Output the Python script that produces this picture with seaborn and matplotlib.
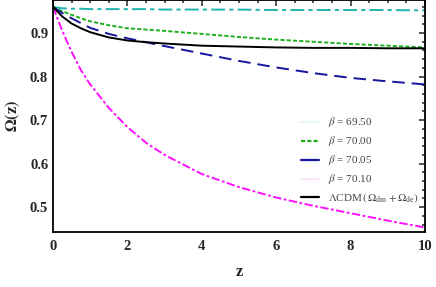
import matplotlib
matplotlib.use("Agg")
import matplotlib.pyplot as plt
from matplotlib.lines import Line2D
from matplotlib.ticker import MultipleLocator
import seaborn as sns

# ── données ─────────────────────────────────────────
z = [0, 0.25, 0.5, 0.75, 1, 1.5, 2, 2.5, 3, 4, 5, 6, 7, 8, 9, 10]
omega_6950 = [0.960, 0.957, 0.956, 0.956, 0.955, 0.955, 0.955, 0.955,
              0.954, 0.954, 0.954, 0.953, 0.953, 0.953, 0.953, 0.952]
omega_7000 = [0.960, 0.950, 0.942, 0.934, 0.927, 0.918, 0.911, 0.908,
              0.905, 0.898, 0.891, 0.885, 0.880, 0.875, 0.871, 0.867]
omega_7005 = [0.960, 0.946, 0.934, 0.923, 0.912, 0.898, 0.888, 0.879,
              0.870, 0.853, 0.836, 0.821, 0.808, 0.797, 0.789, 0.782]
omega_7010 = [0.960, 0.905, 0.857, 0.815, 0.782, 0.728, 0.684, 0.648,
              0.620, 0.576, 0.546, 0.522, 0.503, 0.486, 0.469, 0.453]
omega_lcdm = [0.960, 0.938, 0.922, 0.911, 0.902, 0.890, 0.883, 0.879,
              0.876, 0.871, 0.869, 0.867, 0.866, 0.866, 0.865, 0.865]

labels = [r"$\beta$ = 69.50", r"$\beta$ = 70.00", r"$\beta$ = 70.05",
          r"$\beta$ = 70.10", r"$\Lambda$CDM$\,(\,\Omega_{\rm dm}+\Omega_{\rm de})$"]

sns.set_style("white")
plt.rcParams["font.family"] = ["Liberation Serif", "DejaVu Serif"]
plt.rcParams["mathtext.fontset"] = "stix"
plt.rcParams["lines.scale_dashes"] = False

fig = plt.figure(figsize=(4.36, 2.87), dpi=100)
ax = fig.add_axes([53 / 436, 1 - 231.5 / 287, (425 - 53) / 436, 231.5 / 287])

series = [
    (omega_6950, "#1fb3ad", (0, (10, 3, 3, 3))),
    (omega_7000, "#1fb01f", (0, (3, 1.5))),
    (omega_7005, "#1515a0", (0, (9, 5))),
    (omega_7010, "#ff10ff", (0, (6, 1.8, 2, 1.8))),
    (omega_lcdm, "black", "-"),
]
for vals, col, ls in series:
    sns.lineplot(x=z, y=vals, ax=ax, color=col, lw=1.4, linestyle=ls, sort=False)

ax.set_xlim(0, 10)
ax.set_ylim(0.444, 0.976)
ax.xaxis.set_major_locator(MultipleLocator(2))
ax.xaxis.set_minor_locator(MultipleLocator(0.5))
ax.yaxis.set_major_locator(MultipleLocator(0.1))
ax.yaxis.set_minor_locator(MultipleLocator(0.02))
ax.yaxis.set_major_formatter(plt.FuncFormatter(lambda v, p: f"{v:.1f}"))
ax.tick_params(which="both", direction="in", top=True, right=True, width=1.1)
ax.tick_params(which="major", length=4, labelsize=10.5, pad=6)
ax.tick_params(axis="y", which="major", pad=3.5)
ax.tick_params(which="minor", length=2)
for lab in ax.get_xticklabels() + ax.get_yticklabels():
    lab.set_fontweight("bold")
for sp in ax.spines.values():
    sp.set_linewidth(1.3)
    sp.set_color("black")

ax.set_xlabel("z", fontsize=12, fontweight="bold", labelpad=8)
ax.set_ylabel(r"$\mathbf{\Omega(z)}$", fontsize=12, labelpad=6)

handles = [
    Line2D([], [], color="#1fb3ad", lw=1.2, alpha=0.12),
    Line2D([], [], color="#1fb01f", lw=1.6, linestyle=(0, (3, 1.5))),
    Line2D([], [], color="#1515a0", lw=1.6, linestyle="-"),
    Line2D([], [], color="#ff10ff", lw=1.2, alpha=0.12),
    Line2D([], [], color="black", lw=1.6),
]
leg = ax.legend(handles, labels, loc="lower right", frameon=False, fontsize=8,
                handlelength=1.6, labelspacing=0.45, handletextpad=0.8,
                bbox_to_anchor=(1.01, 0.07))
for t in leg.get_texts():
    t.set_color("#444444")

fig.savefig("out.png", dpi=100)
